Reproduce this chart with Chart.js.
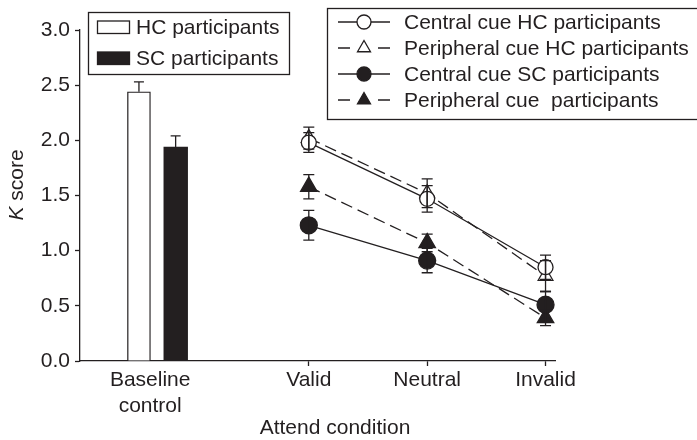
<!DOCTYPE html>
<html>
<head>
<meta charset="utf-8">
<script src="https://cdn.jsdelivr.net/npm/chart.js@4.4.1/dist/chart.umd.min.js"></script>
<style>
  html, body { margin: 0; padding: 0; background: #fff; }
  #wrap { width: 697px; height: 440px; }
</style>
</head>
<body>
<div id="wrap"><canvas id="kChart"></canvas></div>
<script>
// K score per attend condition, HC vs SC participants
const slotLabels = [['Baseline', 'control'], 'Valid', 'Neutral', 'Invalid'];

const baselineScores = [2.44, 1.94];
const baselineErrors = [0.09, 0.10];

const centralHC = [1.98, 1.47, 0.85];
const centralHCErr = [0.09, 0.12, 0.11];
const peripheralHC = [2.02, 1.52, 0.77];
const peripheralHCErr = [0.10, 0.13, 0.14];
const centralSC = [1.23, 0.91, 0.51];
const centralSCErr = [0.135, 0.11, 0.12];
const peripheralSC = [1.58, 1.07, 0.39];
const peripheralSCErr = [0.11, 0.08, 0.07];

// where each group sits on the x axis
const slotPos = [0.66, 2, 3, 4];
const barPos = [0.565, 0.875];

const dark = '#231f20';
const FONT = '"Liberation Sans", Arial, Helvetica, sans-serif';
const SIZE = 21;

const toPoints = (vals) => vals.map((v, i) => ({ x: slotPos[i + 1], y: v }));

function lineSet(label, vals, errs, style, filled, dashed, radius) {
    return {
        type: 'line',
        label: label,
        data: toPoints(vals),
        errors: errs,
        borderColor: dark,
        borderWidth: 1.3,
        borderDash: dashed ? [12, 6] : [],
        pointStyle: style,
        pointRadius: radius,
        pointBackgroundColor: filled ? dark : '#fff',
        pointBorderColor: dark,
        pointBorderWidth: 1.3,
        fill: false,
        tension: 0
    };
}

// vertical error bars with caps
const errorBars = {
    id: 'errorBars',
    afterDatasetsDraw(chart) {
        const ctx = chart.ctx;
        const yScale = chart.scales.y;
        ctx.save();
        ctx.strokeStyle = dark;
        ctx.lineWidth = 1.3;
        chart.data.datasets.forEach((ds, i) => {
            if (!ds.errors) return;
            const meta = chart.getDatasetMeta(i);
            meta.data.forEach((el, j) => {
                const v = ds.data[j].y, e = ds.errors[j];
                const top = yScale.getPixelForValue(v + e);
                const bot = ds.upperOnly ? yScale.getPixelForValue(v) : yScale.getPixelForValue(v - e);
                const cap = ds.capWidth || 11;
                ctx.beginPath();
                ctx.moveTo(el.x, top);
                ctx.lineTo(el.x, bot);
                ctx.moveTo(el.x - cap / 2, top);
                ctx.lineTo(el.x + cap / 2, top);
                if (!ds.upperOnly) {
                    ctx.moveTo(el.x - cap / 2, bot);
                    ctx.lineTo(el.x + cap / 2, bot);
                }
                ctx.stroke();
            });
        });
        ctx.restore();
    }
};

// axis titles (italic K on the y title)
const axisTitles = {
    id: 'axisTitles',
    afterDraw(chart) {
        const ctx = chart.ctx;
        const italic = 'italic ' + SIZE + 'px ' + FONT;
        const normal = SIZE + 'px ' + FONT;
        ctx.save();
        ctx.fillStyle = dark;
        ctx.textBaseline = 'middle';
        ctx.font = normal;
        ctx.textAlign = 'center';
        ctx.fillText('Attend condition', 335, 428);

        ctx.translate(17, 185);
        ctx.rotate(-Math.PI / 2);
        ctx.textAlign = 'left';
        ctx.font = italic;
        const wK = ctx.measureText('K').width;
        ctx.font = normal;
        const wS = ctx.measureText(' score').width;
        const x0 = -(wK + wS) / 2;
        ctx.font = italic;
        ctx.fillText('K', x0, 0);
        ctx.font = normal;
        ctx.fillText(' score', x0 + wK, 0);
        ctx.restore();
    }
};

// two boxed legends: bars on the left, line series on the right
const legendBoxes = {
    id: 'legendBoxes',
    afterDraw(chart) {
        const ctx = chart.ctx;
        const ds = chart.data.datasets;
        ctx.save();
        ctx.strokeStyle = dark;
        ctx.lineWidth = 1.3;
        ctx.fillStyle = '#fff';
        ctx.fillRect(88.5, 12.5, 201, 62);
        ctx.strokeRect(88.5, 12.5, 201, 62);
        ctx.fillRect(327.5, 8.5, 400, 111);
        ctx.strokeRect(327.5, 8.5, 400, 111);

        ctx.font = SIZE + 'px ' + FONT;
        ctx.textBaseline = 'middle';
        ctx.textAlign = 'left';

        [[4, 27], [5, 58]].forEach(([i, y]) => {
            const d = ds[i];
            ctx.fillStyle = d.backgroundColor;
            ctx.fillRect(97.5, y - 6, 32, 12.5);
            ctx.strokeRect(97.5, y - 6, 32, 12.5);
            ctx.fillStyle = dark;
            ctx.fillText(d.label, 136, y + 1);
        });

        [0, 1, 2, 3].forEach((i, k) => {
            const d = ds[i];
            const y = 22 + k * 26;
            const mx = 364;
            ctx.beginPath();
            if (d.borderDash.length) {
                ctx.moveTo(338, y); ctx.lineTo(350, y);
                ctx.moveTo(378, y); ctx.lineTo(390, y);
            } else {
                ctx.moveTo(338, y); ctx.lineTo(390, y);
            }
            ctx.stroke();
            ctx.fillStyle = d.pointBackgroundColor;
            Chart.helpers.drawPoint(ctx, {
                pointStyle: d.pointStyle,
                radius: d.pointStyle === 'triangle' ? 7.5 : 7,
                rotation: 0,
                borderWidth: 1.3
            }, mx, y);
            ctx.fillStyle = dark;
            ctx.fillText(d.label, 404, y + 1);
        });
        ctx.restore();
    }
};

const ctx = document.getElementById('kChart').getContext('2d');
const kChart = new Chart(ctx, {
    type: 'line',
    data: {
        datasets: [
            lineSet('Central cue HC participants', centralHC, centralHCErr, 'circle', false, false, 7.5),
            lineSet('Peripheral cue HC participants', peripheralHC, peripheralHCErr, 'triangle', false, true, 8.5),
            lineSet('Central cue SC participants', centralSC, centralSCErr, 'circle', true, false, 8.5),
            lineSet('Peripheral cue  participants', peripheralSC, peripheralSCErr, 'triangle', true, true, 9.5),
            {
                type: 'bar',
                label: 'HC participants',
                data: [{ x: barPos[0], y: baselineScores[0] }],
                errors: [baselineErrors[0]],
                upperOnly: true,
                capWidth: 10,
                backgroundColor: '#fff',
                borderColor: dark,
                borderWidth: 1.3,
                barThickness: 23,
                grouped: false
            },
            {
                type: 'bar',
                label: 'SC participants',
                data: [{ x: barPos[1], y: baselineScores[1] }],
                errors: [baselineErrors[1]],
                upperOnly: true,
                capWidth: 10,
                backgroundColor: dark,
                borderColor: dark,
                borderWidth: 1.3,
                barThickness: 24,
                grouped: false
            }
        ]
    },
    options: {
        responsive: true,
        maintainAspectRatio: false,
        animation: false,
        layout: { padding: { top: 30, right: 142, left: 0, bottom: 0 } },
        plugins: {
            legend: { display: false },
            tooltip: { enabled: false }
        },
        scales: {
            x: {
                type: 'linear',
                min: 0.067,
                max: 4.08,
                offset: false,
                afterBuildTicks: s => { s.ticks = slotPos.map(v => ({ value: v })); },
                afterFit: s => { s.height = 79; },
                border: { color: dark, width: 1.3 },
                grid: {
                    drawOnChartArea: false,
                    offset: false,
                    tickLength: 5,
                    tickWidth: 1.3,
                    tickColor: c => (c.tick && c.tick.value < 1) ? 'rgba(0,0,0,0)' : dark
                },
                ticks: {
                    autoSkip: false,
                    maxRotation: 0,
                    padding: 2,
                    color: dark,
                    font: { family: FONT, size: SIZE, lineHeight: 1.2 },
                    callback: (v, i) => slotLabels[i]
                }
            },
            y: {
                min: 0,
                max: 3,
                afterFit: s => { s.width = 80; },
                border: { color: dark, width: 1.3 },
                grid: { drawOnChartArea: false, tickLength: 5, tickWidth: 1.3, tickColor: dark },
                ticks: {
                    stepSize: 0.5,
                    padding: 5,
                    color: dark,
                    font: { family: FONT, size: SIZE },
                    callback: v => v.toFixed(1)
                }
            }
        }
    },
    plugins: [errorBars, axisTitles, legendBoxes]
});
</script>
</body>
</html>
